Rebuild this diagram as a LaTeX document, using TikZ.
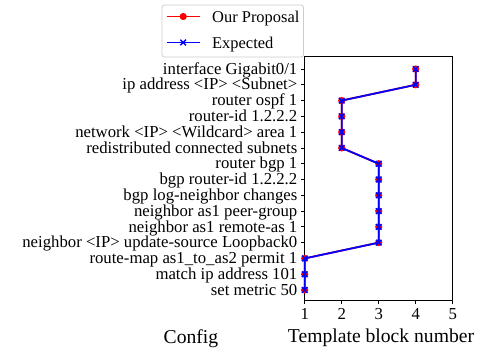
\documentclass[tikz,border=0pt]{standalone}
\usepackage{fontspec}
\setmainfont{Liberation Serif}
\begin{document}
\begin{tikzpicture}[x=1bp,y=-1bp,
  ticklab/.style={font=\fontsize{16.8}{18}\selectfont, inner sep=0pt, anchor=base east},
  xticklab/.style={font=\fontsize{16.8}{18}\selectfont, inner sep=0pt, anchor=base},
  axlab/.style={font=\fontsize{19.7}{22}\selectfont, inner sep=0pt, anchor=base},
  legtext/.style={font=\fontsize{16.5}{18}\selectfont, inner sep=0pt, anchor=base west},
  spine/.style={draw=black, line width=0.8bp},
  tickmark/.style={draw=black, line width=0.8bp},
  propline/.style={draw=red, line width=1.8bp},
  expline/.style={draw=blue, line width=1.8bp},
  propdot/.style={fill=red, draw=none},
  expx/.style={draw=blue, line width=1.4bp}
]
\useasboundingbox (0,0) rectangle (487,348);
% axes frame
\coordinate (axtl) at (304.7,56.7);
\coordinate (axbr) at (452.7,300.7);
\draw[spine] (axtl) rectangle (axbr);
% data points
\foreach \v [count=\i from 0] in {4,4,2,2,2,2,3,3,3,3,3,3,1,1,1} {
  \coordinate (p\i) at ({304.7+37*(\v-1)},{69+15.786*\i});
}
% y ticks and labels
\foreach \lab [count=\i from 0] in {interface Gigabit0/1,ip address <IP> <Subnet>,router ospf 1,router-id 1.2.2.2,network <IP> <Wildcard> area 1,redistributed connected subnets,router bgp 1,bgp router-id 1.2.2.2,bgp log-neighbor changes,neighbor as1 peer-group,neighbor as1 remote-as 1,neighbor <IP> update-source Loopback0,route-map as1\_to\_as2 permit 1,match ip address 101,set metric 50} {
  \coordinate (yt\i) at (304.7,{69+15.786*\i});
  \draw[tickmark] (yt\i) -- ++(-3.5,0);
  \node[ticklab] (yl\i) at (297.5,{69+15.786*\i+5.2}) {\lab};
}
% x ticks and labels
\foreach \k in {1,...,5} {
  \coordinate (xt\k) at ({304.7+37*(\k-1)},300.7);
  \draw[tickmark] (xt\k) -- ++(0,3.5);
  \node[xticklab] (xl\k) at ({304.7+37*(\k-1)},319.5) {\k};
}
% axis labels
\node[axlab] (cfg) at (191,343) {Config};
\node[axlab] (tbn) at (381,342.5) {Template block number};
% proposal series
\draw[propline] (p0) \foreach \i in {1,...,14} {-- (p\i)};
\foreach \i in {0,...,14} { \fill[propdot] (p\i) circle (3.6); }
% expected series
\draw[expline] (p0) \foreach \i in {1,...,14} {-- (p\i)};
\foreach \i in {0,...,14} {
  \draw[expx] ([shift={(-2.8,-2.8)}]p\i) -- ([shift={(2.8,2.8)}]p\i);
  \draw[expx] ([shift={(-2.8,2.8)}]p\i) -- ([shift={(2.8,-2.8)}]p\i);
}
% legend
\draw[draw=black!20, fill=white, line width=0.8bp, rounded corners=2.5] (162,5) rectangle (303.5,57);
\coordinate (la1) at (166.5,16.5);
\coordinate (lb1) at (200,16.5);
\coordinate (lm1) at (183.2,16.5);
\draw[propline] (la1) -- (lb1);
\fill[propdot] (lm1) circle (3.6);
\node[legtext] (lt1) at (212,22.3) {Our Proposal};
\coordinate (la2) at (166.5,42.5);
\coordinate (lb2) at (200,42.5);
\coordinate (lm2) at (183.2,42.5);
\draw[expline] (la2) -- (lb2);
\draw[expx] ([shift={(-2.8,-2.8)}]lm2) -- ([shift={(2.8,2.8)}]lm2);
\draw[expx] ([shift={(-2.8,2.8)}]lm2) -- ([shift={(2.8,-2.8)}]lm2);
\node[legtext] (lt2) at (212,48.3) {Expected};
\end{tikzpicture}
\end{document}
